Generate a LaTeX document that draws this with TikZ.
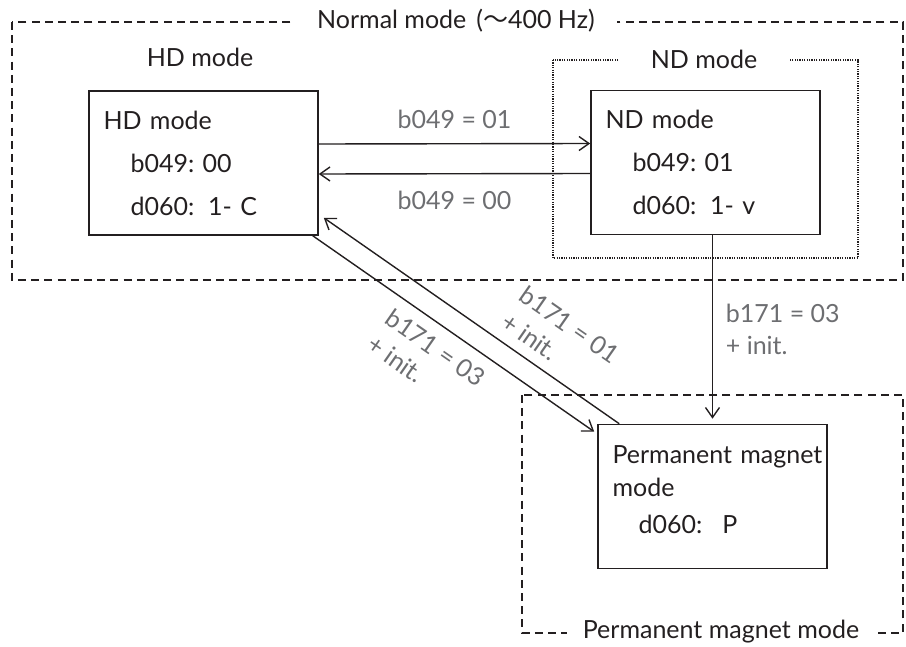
\documentclass[tikz,border=0pt]{standalone}
\usepackage{fontspec}
\setmainfont{Lato}
\newfontfamily\cjk{Noto Sans CJK JP}
\usetikzlibrary{arrows.meta, positioning}
\definecolor{ink}{HTML}{231F20}
\definecolor{lblgray}{HTML}{6D6E71}

\begin{document}
\begin{tikzpicture}[
  x=0.5pt, y=-0.5pt,
  every node/.style={text=ink, font=\fontsize{12.5}{21.5}\selectfont},
  modebox/.style={draw=ink, line width=0.8pt, align=left, text width=100pt,
                  inner xsep=7pt, minimum width=114.5pt, minimum height=72pt},
  grp/.style={draw=ink, line width=0.8pt, dash pattern=on 4pt off 2.6pt},
  sub/.style={draw=ink, line width=0.6pt, dash pattern=on 0.6pt off 0.6pt},
  gtitle/.style={fill=white, inner ysep=1pt},
  lbl/.style={text=lblgray, font=\fontsize{12.5}{16}\selectfont, align=left},
  arr/.style={-{Straight Barb[length=5pt, width=7pt]}, draw=ink, line width=0.7pt}
]
  \useasboundingbox (0,0) rectangle (906,647);

  % groups
  \draw[grp] (12,22) rectangle (903,280);
  \draw[sub] (553,60) rectangle (858,258);
  \draw[grp] (522,395) rectangle (903,633);
  \node[gtitle, inner xsep=11pt] (normal) at (456,21) {Normal mode\hspace{5pt}({\cjk ～}400 Hz)};
  \node[gtitle, inner xsep=16pt] (ndgrp) at (704,59) {ND mode};
  \node[gtitle, inner xsep=8pt] (pmgrp) at (721,632) {Permanent magnet mode};
  \node (hdgrp) at (200,57) {HD mode};

  % modes
  \node[modebox] (hd) at (203.5,163)
    {HD mode\\\hspace*{13.5pt}b049:\ 00\\\hspace*{13.5pt}d060:\hspace{7pt}1- C};
  \node[modebox] (nd) at (705.5,162.5)
    {ND mode\\\hspace*{13.5pt}b049:\ 01\\\hspace*{13.5pt}d060:\hspace{7pt}1- v};
  \node[modebox, text depth=41.5pt, font=\fontsize{12.5}{16.5}\selectfont] (pm) at (712.5,496.5)
    {\mbox{Permanent magnet}\\mode\\[2pt]\hspace*{13pt}d060:\hspace{10pt}P};

  % transitions
  \draw[arr] ([yshift=9.5pt]hd.east) -- node[lbl, above=4pt] (b01) {b049 = 01} ([yshift=9.5pt]nd.west);
  \draw[arr] ([yshift=-5.5pt]nd.west) -- node[lbl, below=5pt] (b00) {b049 = 00} ([yshift=-5.5pt]hd.east);
  \draw[arr, shorten >=2.5pt] (nd.south -| pm.north) -- node[lbl, right=3pt] (c03) {b171 = 03\\+ init.} (pm.north);
  \draw[arr] ([xshift=-3pt]hd.south east) -- node[lbl, sloped, below=2.5pt, pos=0.48] (d03) {b171 = 03\\+ init.} ([xshift=-1.5pt, yshift=-4pt]pm.north west);
  \draw[arr] ([xshift=11pt]pm.north west) -- node[lbl, sloped, above=2pt, pos=0.27] (d01) {b171 = 01\\+ init.} ([xshift=2.5pt, yshift=9pt]hd.south east);
\end{tikzpicture}
\end{document}
